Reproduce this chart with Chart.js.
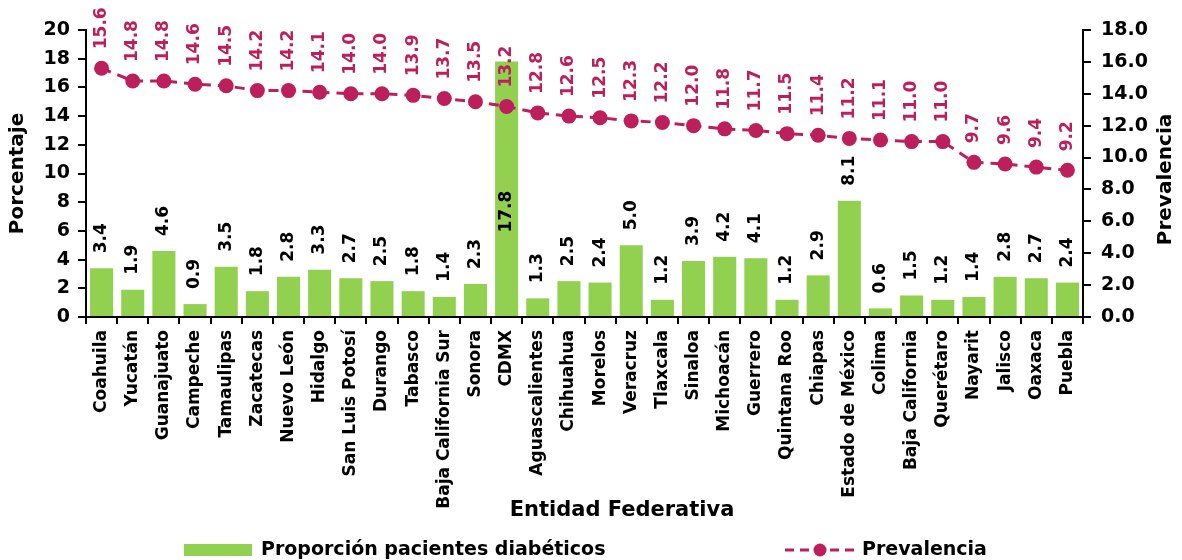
<!DOCTYPE html>
<html>
<head>
<meta charset="utf-8">
<script src="https://cdn.jsdelivr.net/npm/chart.js@4"></script>
<style>
  html, body { margin: 0; padding: 0; background: #fff; }
  #wrap { width: 1182px; height: 560px; }
</style>
</head>
<body>
<div id="wrap"><canvas id="diabChart" width="1182" height="560"></canvas></div>
<script>
// estados, ordenados por prevalencia
const estados = ['Coahuila', 'Yucatán', 'Guanajuato', 'Campeche', 'Tamaulipas', 'Zacatecas', 'Nuevo León',
  'Hidalgo', 'San Luis Potosí', 'Durango', 'Tabasco', 'Baja California Sur', 'Sonora', 'CDMX',
  'Aguascalientes', 'Chihuahua', 'Morelos', 'Veracruz', 'Tlaxcala', 'Sinaloa', 'Michoacán', 'Guerrero',
  'Quintana Roo', 'Chiapas', 'Estado de México', 'Colima', 'Baja California', 'Querétaro', 'Nayarit',
  'Jalisco', 'Oaxaca', 'Puebla'];

// proporcion de pacientes diabeticos (eje izquierdo)
const proporcion = [3.4, 1.9, 4.6, 0.9, 3.5, 1.8, 2.8, 3.3, 2.7, 2.5, 1.8, 1.4, 2.3, 17.8,
  1.3, 2.5, 2.4, 5.0, 1.2, 3.9, 4.2, 4.1, 1.2, 2.9, 8.1, 0.6, 1.5, 1.2, 1.4, 2.8, 2.7, 2.4];

// prevalencia (eje derecho)
const prevalencia = [15.6, 14.8, 14.8, 14.6, 14.5, 14.2, 14.2, 14.1, 14.0, 14.0, 13.9, 13.7, 13.5, 13.2,
  12.8, 12.6, 12.5, 12.3, 12.2, 12.0, 11.8, 11.7, 11.5, 11.4, 11.2, 11.1, 11.0, 11.0, 9.7, 9.6, 9.4, 9.2];

const VERDE = '#92d050';
const GUINDA = '#bc1f5b';
const FONT = '"DejaVu Sans", sans-serif';

// etiquetas de datos, titulos y leyenda (no hay plugin datalabels)
const extras = {
  id: 'extras',
  afterDatasetsDraw(chart) {
    const ctx = chart.ctx;
    const area = chart.chartArea;
    ctx.save();
    ctx.font = 'bold 17px ' + FONT;
    ctx.textBaseline = 'middle';
    ctx.textAlign = 'left';

    // valores de las barras
    const barMeta = chart.getDatasetMeta(1);
    barMeta.data.forEach(function (bar, i) {
      const txt = proporcion[i].toFixed(1);
      const w = ctx.measureText(txt).width;
      let start = bar.y - 15;
      if (start - w < area.top + 60) start = bar.y + 171; // no cabe arriba, va dentro
      ctx.save();
      ctx.translate(bar.x, start);
      ctx.rotate(-Math.PI / 2);
      ctx.fillStyle = '#000';
      ctx.fillText(txt, 0, 0);
      ctx.restore();
    });

    // valores de la linea
    const lineMeta = chart.getDatasetMeta(0);
    lineMeta.data.forEach(function (pt, i) {
      ctx.save();
      ctx.translate(pt.x, pt.y - 19);
      ctx.rotate(-Math.PI / 2);
      ctx.fillStyle = GUINDA;
      ctx.fillText(prevalencia[i].toFixed(1), 0, 0);
      ctx.restore();
    });

    // titulo eje x
    ctx.fillStyle = '#000';
    ctx.font = 'bold 21px ' + FONT;
    ctx.textAlign = 'center';
    ctx.fillText('Entidad Federativa', 622, 511);

    // titulo eje derecho (se lee de abajo hacia arriba)
    ctx.save();
    ctx.font = 'bold 20px ' + FONT;
    ctx.translate(1166, (area.top + area.bottom) / 2 + 6);
    ctx.rotate(-Math.PI / 2);
    ctx.fillText('Prevalencia', 0, 0);
    ctx.restore();

    // leyenda
    ctx.textAlign = 'left';
    ctx.font = 'bold 19px ' + FONT;
    ctx.fillStyle = VERDE;
    ctx.fillRect(184, 544, 68, 12);
    ctx.fillStyle = '#000';
    ctx.fillText('Proporción pacientes diabéticos', 261, 550);

    ctx.strokeStyle = GUINDA;
    ctx.lineWidth = 3;
    ctx.setLineDash([9, 6]);
    ctx.beginPath();
    ctx.moveTo(785, 550);
    ctx.lineTo(855, 550);
    ctx.stroke();
    ctx.setLineDash([]);
    ctx.fillStyle = GUINDA;
    ctx.beginPath();
    ctx.arc(820, 550, 6.5, 0, Math.PI * 2);
    ctx.fill();
    ctx.fillStyle = '#000';
    ctx.fillText('Prevalencia', 862, 550);
    ctx.restore();
  }
};

new Chart(document.getElementById('diabChart').getContext('2d'), {
  type: 'bar',
  data: {
    labels: estados,
    datasets: [{
      type: 'line',
      label: 'Prevalencia',
      data: prevalencia,
      yAxisID: 'y1',
      borderColor: GUINDA,
      backgroundColor: GUINDA,
      borderWidth: 3,
      borderDash: [10, 7],
      pointRadius: 7.5,
      pointBorderWidth: 0,
      pointBackgroundColor: GUINDA,
      order: 1
    }, {
      label: 'Proporción pacientes diabéticos',
      data: proporcion,
      yAxisID: 'y',
      backgroundColor: VERDE,
      barPercentage: 0.74,
      categoryPercentage: 1.0,
      order: 2
    }]
  },
  options: {
    responsive: false,
    animation: false,
    layout: { padding: { top: 30, bottom: 0, left: 0, right: 0 } },
    plugins: {
      legend: { display: false },
      tooltip: { enabled: false }
    },
    scales: {
      x: {
        offset: true,
        grid: { offset: true, drawOnChartArea: false, color: '#000', lineWidth: 2, tickLength: 7 },
        border: { color: '#000', width: 2 },
        ticks: {
          autoSkip: false, minRotation: 90, maxRotation: 90, padding: 6,
          color: '#000', font: { family: FONT, size: 17, weight: 'bold' }
        },
        afterFit: function (scale) { scale.height = 243; }
      },
      y: {
        position: 'left',
        min: 0, max: 20,
        grid: { drawOnChartArea: false, color: '#000', lineWidth: 2, tickLength: 8 },
        border: { color: '#000', width: 2 },
        ticks: { stepSize: 2, padding: 8, color: '#000', font: { family: FONT, size: 19, weight: 'bold' } },
        title: { display: true, text: 'Porcentaje', color: '#000', padding: { top: 6, bottom: 0 }, font: { family: FONT, size: 20, weight: 'bold' } },
        afterFit: function (scale) { scale.width = 86; }
      },
      y1: {
        position: 'right',
        min: 0, max: 18,
        grid: { drawOnChartArea: false, color: '#000', lineWidth: 2, tickLength: 8 },
        border: { color: '#000', width: 2 },
        ticks: {
          stepSize: 2, padding: 10, color: '#000', font: { family: FONT, size: 19, weight: 'bold' },
          callback: function (v) { return v.toFixed(1); }
        },
        afterFit: function (scale) { scale.width = 99; }
      }
    }
  },
  plugins: [extras]
});
</script>
</body>
</html>
